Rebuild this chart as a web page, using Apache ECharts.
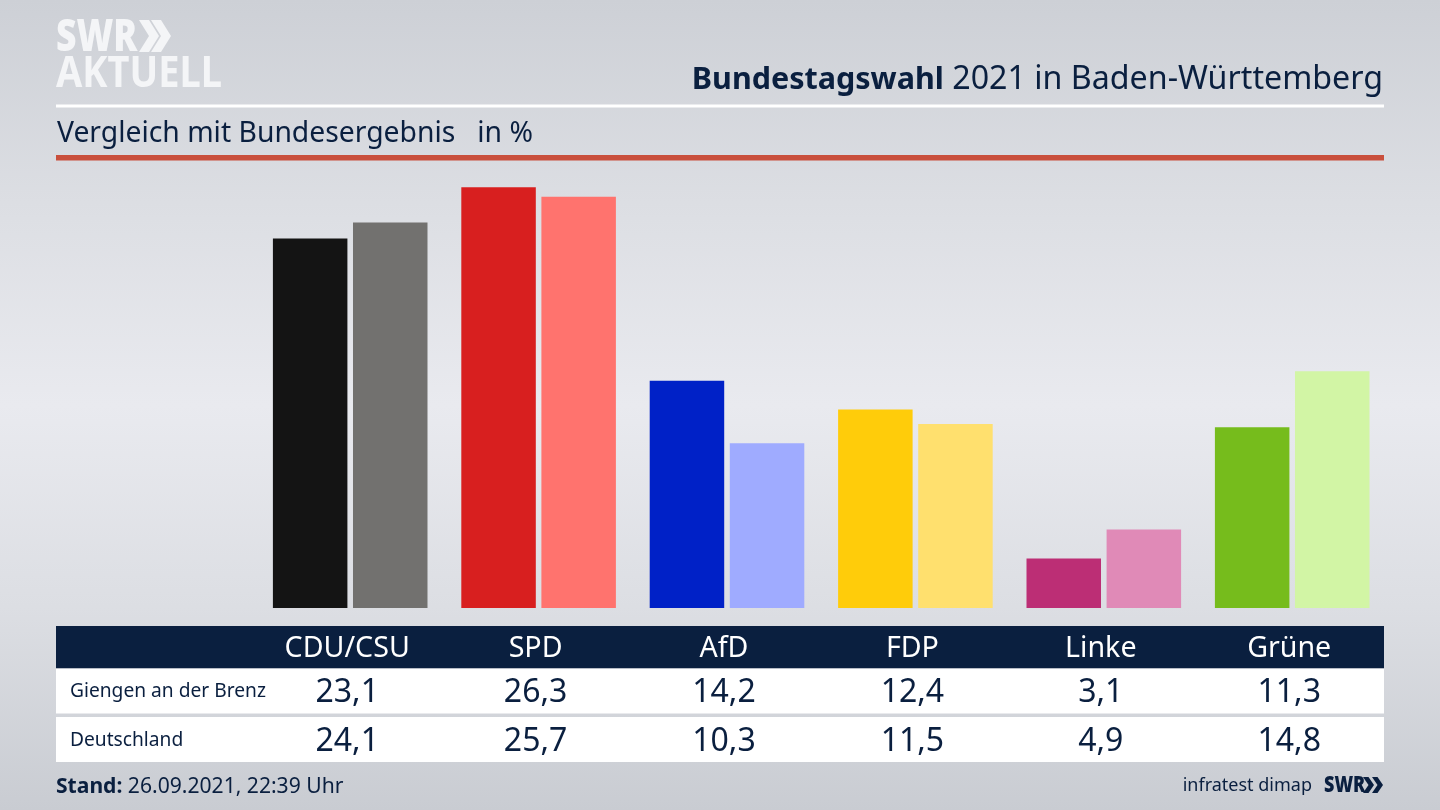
<!DOCTYPE html>
<html><head><meta charset="utf-8">
<style>html,body{margin:0;padding:0;width:1440px;height:810px;overflow:hidden}#c{width:1440px;height:810px}</style>
<script src="https://cdn.jsdelivr.net/npm/echarts@6/dist/echarts.min.js"></script>
</head><body><div id="c"></div>
<script>
const parties = ['CDU/CSU','SPD','AfD','FDP','Linke','Grüne'];
const giengen = [23.1,26.3,14.2,12.4,3.1,11.3];
const deutschland = [24.1,25.7,10.3,11.5,4.9,14.8];
const colorsDark = ['#141414','#d81f1f','#0021c7','#ffcc0a','#bc2e75','#76bc1c'];
const colorsLight = ['#72716f','#ff736e','#9fabff','#ffe06e','#e08ab7','#d2f5a5'];
const rowNames = ['Giengen an der Brenz','Deutschland'];
const NAVY = '#0a1f3f', FONT = '"Noto Sans"', LOGO = '#f4f5f7';
const de = v => v.toFixed(1).replace('.',',');
const chart = echarts.init(document.getElementById('c'),null,{renderer:'canvas'});
const txt = (x,y,text,size,extra={},el={}) => Object.assign({type:'text',z:5,x,y,originX:0,originY:0,style:Object.assign({text,fontFamily:FONT,fontSize:size,fill:NAVY,verticalAlign:'middle'},extra)},el);
const rect = (x,y,w,h,fill,z=-1) => ({type:'rect',z,shape:{x,y,width:w,height:h},style:{fill}});
const chevron = (x,y,w,h,fill) => ({type:'polygon',z:5,shape:{points:[[x,y],[x+w*0.5,y],[x+w,y+h/2],[x+w*0.5,y+h],[x,y+h],[x+w*0.5,y+h/2]]},style:{fill}});
const axisBase = {type:'category',data:parties,gridIndex:1,position:'bottom',axisLine:{show:false},axisTick:{show:false}};
const valueAxis = (off,arr,size) => Object.assign({},axisBase,{offset:off,axisLabel:{margin:0,verticalAlign:'middle',color:NAVY,fontFamily:FONT,fontSize:size,interval:0,formatter:(v,i)=>de(arr[i])}});
chart.setOption({
  animation:false,
  backgroundColor:new echarts.graphic.LinearGradient(0,0,0,1,[
    {offset:0,color:'#cdd0d6'},{offset:0.25,color:'#dcdee3'},{offset:0.5,color:'#e9eaef'},{offset:0.75,color:'#dcdee3'},{offset:1,color:'#c9ccd2'}]),
  grid:[
    {left:256,width:1130.4,top:160,height:448},
    {left:253,width:1130.4,top:160,height:448}
  ],
  yAxis:[
    {type:'value',gridIndex:0,min:0,max:28,show:false},
    {type:'value',gridIndex:1,min:0,max:28,show:false}
  ],
  xAxis:[
    {type:'category',data:parties,gridIndex:0,axisLine:{show:false},axisTick:{show:false},axisLabel:{show:false}},
    Object.assign({},axisBase,{axisLabel:{margin:40.5,verticalAlign:'middle',color:'#fff',fontFamily:FONT,fontSize:28.6,interval:0}}),
    valueAxis(85,giengen,32),
    valueAxis(134,deutschland,32)
  ],
  series:[
    {type:'bar',name:rowNames[0],xAxisIndex:0,yAxisIndex:0,barWidth:74.5,barGap:'7.5%',data:giengen.map((v,i)=>({value:v,itemStyle:{color:colorsDark[i]}}))},
    {type:'bar',name:rowNames[1],xAxisIndex:0,yAxisIndex:0,barWidth:74.5,barGap:'7.5%',data:deutschland.map((v,i)=>({value:v,itemStyle:{color:colorsLight[i]}}))}
  ],
  graphic:{elements:[
    rect(56,104.5,1328,3,'#ffffff'),
    rect(56,155,1328,5.5,'#c94f3c'),
    rect(56,626,1328,42.5,NAVY),
    rect(56,668.5,1328,45,'#ffffff'),
    rect(56,717,1328,45,'#ffffff'),
    txt(56,38,'SWR',35.5,{fontWeight:900,fill:LOGO},{scaleY:1.25}),
    chevron(139,20,20,32,LOGO),
    chevron(151,20,20,32,LOGO),
    txt(56,75,'AKTUELL',38,{fontWeight:700,fill:LOGO},{scaleY:1.15}),
    txt(1383,80,'{b|Bundestagswahl} {r|2021 in Baden-Württemberg}',32,{align:'right',rich:{b:{fontFamily:FONT,fontSize:30.5,fontWeight:700,fill:NAVY},r:{fontFamily:FONT,fontSize:32.2,fill:NAVY}}}),
    txt(57,134,'Vergleich mit Bundesergebnis   in %',28.3),
    txt(70,692,rowNames[0],19.2),
    txt(70,741,rowNames[1],19.2),
    txt(56,787,'{b|Stand:} 26.09.2021, 22:39 Uhr',21.1,{rich:{b:{fontFamily:FONT,fontSize:21.1,fontWeight:700,fill:NAVY}}}),
    txt(1312,786,'infratest dimap',18,{align:'right'}),
    txt(1324,786,'SWR',18,{fontWeight:900},{scaleY:1.25}),
    chevron(1363,777,11,16,NAVY),
    chevron(1372,777,11,16,NAVY)
  ]}
});
</script></body></html>
